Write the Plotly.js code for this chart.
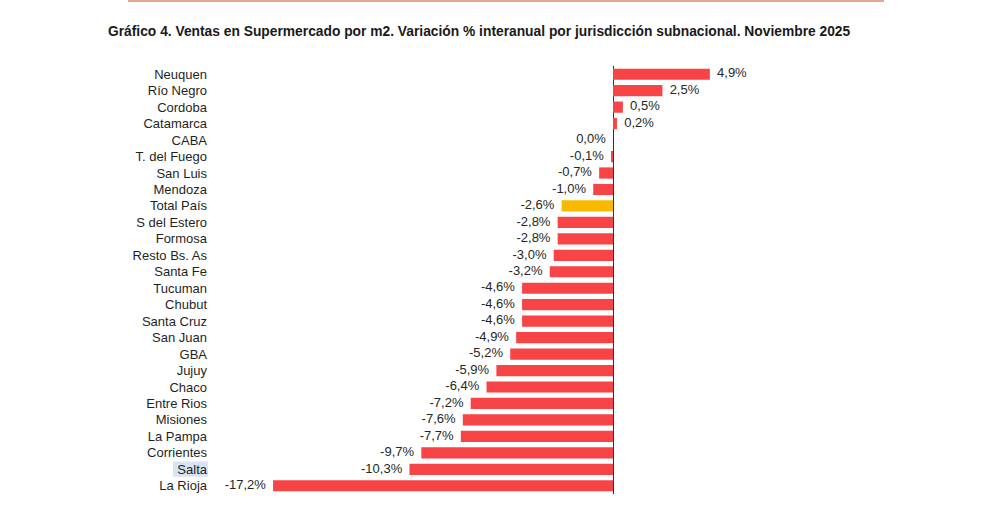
<!DOCTYPE html>
<html>
<head>
<meta charset="utf-8">
<script src="https://cdn.plot.ly/plotly-3.0.1.min.js"></script>
<style>html,body{margin:0;padding:0;background:#fff;}#chart{width:990px;height:527px;}</style>
</head>
<body>
<div id="chart"></div>
<script>
var categories = ["Neuquen","Río Negro","Cordoba","Catamarca","CABA","T. del Fuego","San Luis","Mendoza","Total País","S del Estero","Formosa","Resto Bs. As","Santa Fe","Tucuman","Chubut","Santa Cruz","San Juan","GBA","Jujuy","Chaco","Entre Rios","Misiones","La Pampa","Corrientes","Salta","La Rioja"];
var values = [4.9,2.5,0.5,0.2,0.0,-0.1,-0.7,-1.0,-2.6,-2.8,-2.8,-3.0,-3.2,-4.6,-4.6,-4.6,-4.9,-5.2,-5.9,-6.4,-7.2,-7.6,-7.7,-9.7,-10.3,-17.2];
var highlightCategory = "Total País";
var markedLabel = "Salta";

var red = "#F64447", yellow = "#F7BA00";
var colors = categories.map(function(c){ return c === highlightCategory ? yellow : red; });
var positions = values.map(function(v){ return v > 0 ? "middle right" : "middle left"; });
var pad = "\u00a0\u00a0";

var bars = {
  type: "bar", orientation: "h",
  x: values, y: categories,
  marker: {color: colors},
  hoverinfo: "skip"
};
var labels = {
  type: "scatter", mode: "text",
  x: values, y: categories,
  text: values.map(function(v){ var s = v.toFixed(1).replace(".", ",") + "%"; return v > 0 ? pad + s : s + pad; }),
  textposition: positions,
  textfont: {family: "Liberation Sans, Arial, sans-serif", size: 13, color: "#262626"},
  cliponaxis: false,
  hoverinfo: "skip"
};

var n = categories.length;
var salIdx = categories.indexOf(markedLabel);

var layout = {
  width: 990, height: 527,
  margin: {l: 212, r: 210, t: 66, b: 33},
  paper_bgcolor: "#fff", plot_bgcolor: "#fff",
  showlegend: false,
  bargap: 0.32,
  separators: ",.",
  title: {
    text: "Gráfico 4. Ventas en Supermercado por m2. Variación % interanual por jurisdicción subnacional. Noviembre 2025",
    x: 108/990, xanchor: "left", xref: "container",
    y: 1 - 31/527, yanchor: "middle", yref: "container",
    font: {family: "Liberation Sans, Arial, sans-serif", size: 13.8, color: "#1a1a1a", weight: "bold"}
  },
  xaxis: {
    range: [-20.29, 8.45],
    showgrid: false, showticklabels: false, ticks: "",
    zeroline: true, zerolinecolor: "#333", zerolinewidth: 1,
    fixedrange: true
  },
  yaxis: {
    type: "category",
    categoryorder: "array", categoryarray: categories.slice(),
    range: [n - 0.5, -0.5],
    showgrid: false, ticks: "", showline: false, zeroline: false,
    tickfont: {family: "Liberation Sans, Arial, sans-serif", size: 13, color: "#1f1f1f"},
    ticklabelstandoff: 4
  },
  shapes: [
    {type: "line", xref: "paper", yref: "paper", x0: (128-212)/568, x1: (884-212)/568, y0: (494-1)/428, y1: (494-1)/428,
     line: {color: "#E8A496", width: 2}},
    {type: "rect", xref: "paper", yref: "y", layer: "below",
     x0: (173-212)/568, x1: (208-212)/568, y0: salIdx - 0.48, y1: salIdx + 0.45,
     fillcolor: "#D6E4F5", line: {width: 0}}
  ]
};

Plotly.newPlot("chart", [bars, labels], layout, {displayModeBar: false, staticPlot: true});
</script>
</body>
</html>
